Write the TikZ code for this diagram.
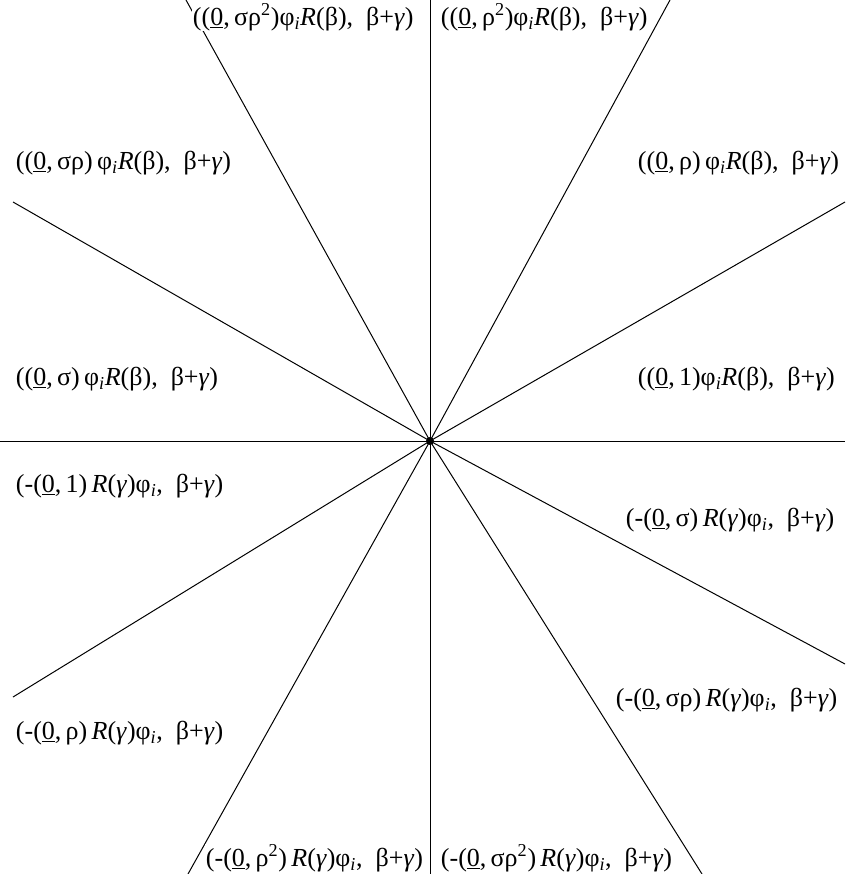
\documentclass[tikz,border=0pt]{standalone}
\usepackage{fontspec}
\setmainfont{Liberation Serif}
% shorthands for the repeated pieces of the labels
\newcommand{\zu}{(\underline{0},\,}
\newcommand{\phii}{φ\textsubscript{\textit{i}}}
\newcommand{\Rb}{\textit{R}(β)}
\newcommand{\Rg}{\textit{R}(\textit{γ})}
\newcommand{\bg}{β+\textit{γ})}
\begin{document}
\begin{tikzpicture}[x=0.75pt,y=-0.75pt,
  lab/.style={anchor=west,inner sep=0.5pt,fill=white,font=\fontsize{19.5}{22}\selectfont},
  ray/.style={line width=0.75pt}]
\useasboundingbox (0,0) rectangle (850,874);
\coordinate (o) at (430,441);
% end points of the twelve rays
\coordinate (pW)  at (0,441);
\coordinate (pE)  at (845,441);
\coordinate (pN)  at (430,0);
\coordinate (pS)  at (430,874);
\coordinate (pWNW) at (13,202);
\coordinate (pESE) at (845,664);
\coordinate (pENE) at (845,202);
\coordinate (pWSW) at (13,697);
\coordinate (pNNW) at (186,0);
\coordinate (pSSE) at (702,874);
\coordinate (pNNE) at (670,0);
\coordinate (pSSW) at (188,874);
\foreach \p in {pW,pE,pN,pS,pWNW,pESE,pENE,pWSW,pNNW,pSSE,pNNE,pSSW}
  \draw[ray] (o) -- (\p);
\fill (o) circle (3pt);
% labels of the twelve sectors
\node[lab] (l1)  at (192,17)  {(\zu σρ\textsuperscript{2})\phii\Rb,~~\bg};
\node[lab] (l2)  at (440,17)  {(\zu ρ\textsuperscript{2})\phii\Rb,~~\bg};
\node[lab] (l3)  at (15,163)  {(\zu σρ)\,\phii\Rb,~~\bg};
\node[lab] (l4)  at (637,163) {(\zu ρ)\,\phii\Rb,~~\bg};
\node[lab] (l5)  at (15,379)  {(\zu σ)\,\phii\Rb,~~\bg};
\node[lab] (l6)  at (637,379) {(\zu 1)\phii\Rb,~~\bg};
\node[lab] (l7)  at (15,486)  {(-\zu 1)\,\Rg\phii,~~\bg};
\node[lab] (l8)  at (625,520) {(-\zu σ)\,\Rg\phii,~~\bg};
\node[lab] (l9)  at (15,733)  {(-\zu ρ)\,\Rg\phii,~~\bg};
\node[lab] (l10) at (615,700) {(-\zu σρ)\,\Rg\phii,~~\bg};
\node[lab] (l11) at (205,858) {(-\zu ρ\textsuperscript{2})\,\Rg\phii,~~\bg};
\node[lab] (l12) at (440,858) {(-\zu σρ\textsuperscript{2})\,\Rg\phii,~~\bg};
\end{tikzpicture}
\end{document}
